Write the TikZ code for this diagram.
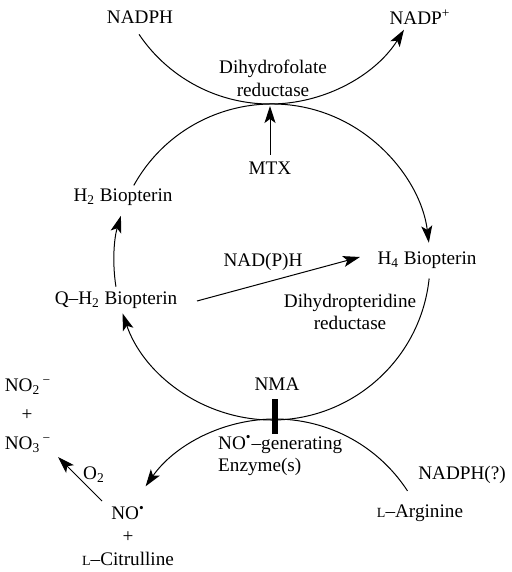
\documentclass[tikz,border=0pt]{standalone}
\usepackage{fontspec}
\setmainfont{Liberation Serif}
\usetikzlibrary{arrows.meta}

\newcommand{\scL}{{\fontsize{7}{8}\selectfont L}}

\begin{document}
\begin{tikzpicture}[x=0.5pt, y=-0.5pt, line width=0.5pt,
    font=\fontsize{9.6}{11.4}\selectfont,
    >={Stealth[length=8.5pt, width=5.5pt, inset=2pt]}]
    \useasboundingbox (0,0) rectangle (512,572);

    % centres of the three circles
    \coordinate (cyc) at (272, 262);
    \coordinate (dhfr) at (270, -54);
    \coordinate (nos) at (275, 577);

    \node (nadph) at (140, 17) {NADPH};
    \node (nadp) at (420, 17) {NADP\textsuperscript{+}};
    \node[align=center] (dhfrlbl) at (273, 78) {Dihydrofolate\\reductase};
    \node (mtx) at (270, 168) {MTX};
    \coordinate (touch) at (270, 106);

    \node (h2) at (123, 197) {H\textsubscript{2} Biopterin};
    \node (qh2) at (116, 300) {Q--H\textsubscript{2} Biopterin};
    \node (h4) at (427, 260) {H\textsubscript{4} Biopterin};
    \node (nadh) at (263, 262) {NAD(P)H};
    \node[align=center] (dhpr) at (350, 312) {Dihydropteridine\\reductase};
    \coordinate (nadStart) at (197, 301);
    \coordinate (nadEnd) at (360, 257);

    \node (nma) at (277, 384) {NMA};
    \node[fill, minimum width=3pt, minimum height=17.5pt, inner sep=0pt] (bar) at (275, 416) {};
    \node[align=left, anchor=west] (enz) at (211, 456) {NO\textsuperscript{\textbullet}--generating\\Enzyme(s)};
    \node (nadphq) at (462, 475) {NADPH(?)};
    \node (arg) at (420, 513) {\scL--Arginine};

    \node[align=center] (noprod) at (128, 536) {NO\textsuperscript{\textbullet}\\+\\\scL--Citrulline};
    \node (no2) at (28, 387) {NO\textsubscript{2}\textsuperscript{\,−}};
    \node (plus) at (27, 415) {+};
    \node (no3) at (28, 445) {NO\textsubscript{3}\textsuperscript{\,−}};
    \node (o2) at (94, 475) {O\textsubscript{2}};
    \coordinate (o2Start) at (102, 501);
    \coordinate (o2End) at (58, 457);

    % arcs
    \draw[->] (dhfr) ++(146:158) arc[start angle=146, end angle=32, radius=158];
    \draw[->] (cyc) ++(-151:158) arc[start angle=-151, end angle=-7, radius=158];
    \draw[->] (cyc) ++(6:158) arc[start angle=6, end angle=161, radius=158];
    \draw[->] (cyc) ++(171:158) arc[start angle=171, end angle=197, radius=158];
    \draw[->] (nos) ++(-33:158) arc[start angle=-33, end angle=-145, radius=158];

    \draw[->] (mtx) -- (touch);
    \draw[->] (nadStart) -- (nadEnd);
    \draw[->] (o2Start) -- (o2End);
\end{tikzpicture}
\end{document}
